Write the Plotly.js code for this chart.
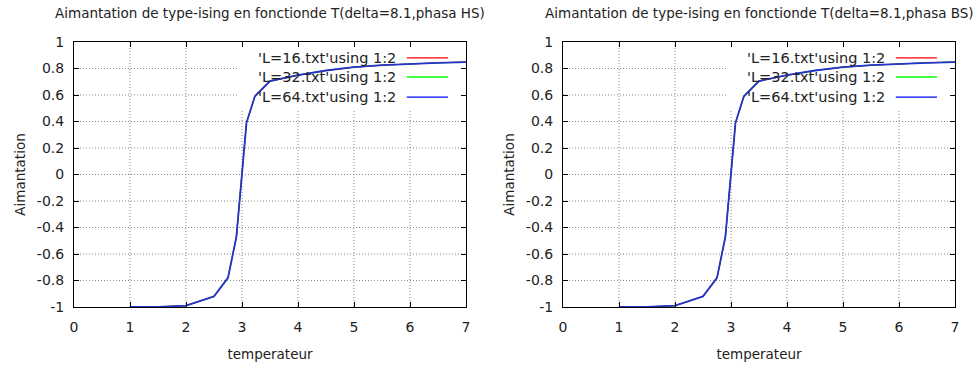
<!DOCTYPE html>
<html>
<head>
<meta charset="utf-8">
<script src="https://cdn.plot.ly/plotly-3.0.1.min.js"></script>
<style>html,body{margin:0;padding:0;background:#fff;}#chart{width:979px;height:367px;}</style>
</head>
<body>
<div id="chart"></div>
<script>
// ---- data ----
const panelTitles = [
  "Aimantation de type-ising en fonctionde T(delta=8.1,phasa HS)",
  "Aimantation de type-ising en fonctionde T(delta=8.1,phasa BS)"
];
const seriesNames = ["'L=16.txt'using 1:2", "'L=32.txt'using 1:2", "'L=64.txt'using 1:2"];
const seriesColors = ["#ff0000", "#00c800", "#2436c8"];
const temperature = [1.0, 1.5, 2.0, 2.5, 2.75, 2.9, 3.08, 3.23, 3.5, 4.0, 4.5, 5.0, 5.5, 6.0, 6.5, 7.0];
const magL16 = [-1.0, -0.999, -0.99, -0.92, -0.78, -0.47, 0.39, 0.59, 0.705, 0.75, 0.785, 0.81, 0.825, 0.836, 0.843, 0.848];
const magL32 = [-1.0, -0.999, -0.99, -0.92, -0.78, -0.47, 0.39, 0.59, 0.705, 0.75, 0.785, 0.81, 0.825, 0.836, 0.843, 0.848];
const magL64 = [-1.0, -0.999, -0.99, -0.92, -0.78, -0.47, 0.39, 0.59, 0.705, 0.75, 0.785, 0.81, 0.825, 0.836, 0.843, 0.848];
const xTicks = [0, 1, 2, 3, 4, 5, 6, 7];
const yTicks = [-1, -0.8, -0.6, -0.4, -0.2, 0, 0.2, 0.4, 0.6, 0.8, 1];
const xLabel = "temperateur";
const yLabel = "Aimantation";

const seriesData = [magL16, magL32, magL64];
const seriesWidths = [1.1, 1.1, 1.8];
const font = "DejaVu Sans, Verdana, sans-serif";
const txtColor = "#222";
const legendLineColors = ["#ff0000", "#00ff00", "#0000ff"];
const gridLine = {color: "#888", width: 1, dash: "1px,2px"};

const traces = [];
const shapes = [];
const annotations = [];
[0, 1].forEach(p => {
  const xa = p === 0 ? "x" : "x2";
  const ya = p === 0 ? "y" : "y2";
  seriesData.forEach((s, i) => {
    traces.push({
      x: temperature, y: s, xaxis: xa, yaxis: ya,
      type: "scatter", mode: "lines", name: seriesNames[i],
      line: {color: seriesColors[i], width: seriesWidths[i]},
      showlegend: false, hoverinfo: "x+y"
    });
  });
  const xd = xa + " domain", yd = ya + " domain";
  // dotted grid
  xTicks.slice(1, -1).forEach(v => shapes.push({type: "line", xref: xa, yref: yd, x0: v, x1: v, y0: 0, y1: 1, line: gridLine, layer: "below"}));
  yTicks.slice(1, -1).forEach(v => shapes.push({type: "line", xref: xd, yref: ya, x0: 0, x1: 1, y0: v, y1: v, line: gridLine, layer: "below"}));
  // white key box hiding grid (like gnuplot key)
  shapes.push({type: "rect", xref: xd, yref: yd, x0: 0.42, x1: 1, y0: 0.745, y1: 1,
    fillcolor: "#fff", line: {width: 0}, layer: "below"});
  const rowsY = [0.94, 0.868, 0.792];
  seriesNames.forEach((n, i) => {
    annotations.push({xref: xd, yref: yd, x: 0.826, y: rowsY[i], text: n, showarrow: false,
      xanchor: "right", yanchor: "middle", font: {family: font, size: 14.5, color: txtColor}});
    shapes.push({type: "line", xref: xd, yref: yd, x0: 0.849, x1: 0.954, y0: rowsY[i], y1: rowsY[i],
      line: {color: legendLineColors[i], width: 1.3}, layer: "above"});
  });
  annotations.push({xref: xd, yref: "paper", x: 0.5, y: 1.109, text: panelTitles[p], showarrow: false,
    xanchor: "center", yanchor: "middle", font: {family: font, size: 13.5, color: txtColor}});
});

const axisCommon = {
  showline: true, linecolor: "#000", linewidth: 1, mirror: "ticks",
  ticks: "inside", ticklen: 5, tickcolor: "#000", tickwidth: 1,
  showgrid: false, zeroline: false, tickfont: {family: font, size: 14, color: txtColor}
};
const xAx = (dom, anchor) => Object.assign({}, axisCommon, {
  domain: dom, anchor: anchor, range: [0, 7], tickvals: xTicks, ticktext: xTicks.map(String),
  ticklabelstandoff: 7,
  title: {text: xLabel, font: {family: font, size: 13.5, color: txtColor}, standoff: 15}
});
const yAx = (anchor) => Object.assign({}, axisCommon, {
  anchor: anchor, range: [-1, 1], tickvals: yTicks, ticktext: yTicks.map(v => String(v)),
  ticklabelstandoff: 6,
  title: {text: yLabel, font: {family: font, size: 13.5, color: txtColor}, standoff: 8}
});

const layout = {
  width: 979, height: 367,
  margin: {l: 74, r: 24, t: 42, b: 60},
  paper_bgcolor: "#fff", plot_bgcolor: "#fff",
  showlegend: false,
  xaxis: xAx([0, 392 / 881], "y"),
  yaxis: yAx("x"),
  xaxis2: xAx([489 / 881, 1], "y2"),
  yaxis2: yAx("x2"),
  shapes: shapes, annotations: annotations
};
Plotly.newPlot("chart", traces, layout, {staticPlot: true, displayModeBar: false});
</script>
</body>
</html>
